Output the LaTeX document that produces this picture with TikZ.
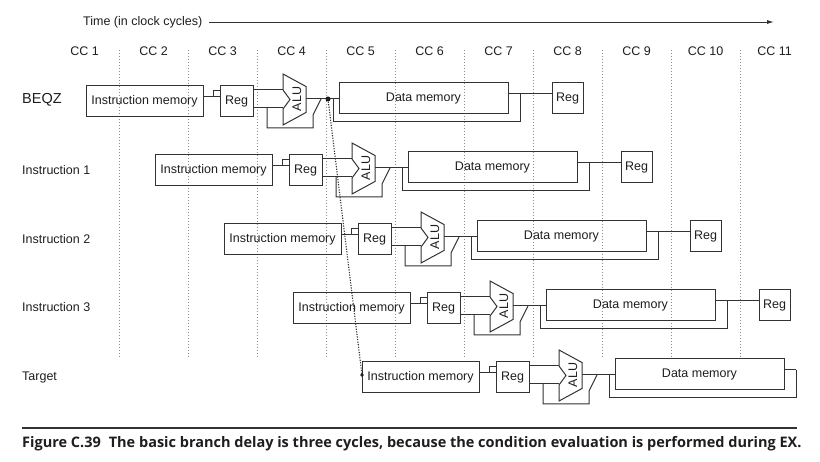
\documentclass[tikz,border=0pt]{standalone}
\usepackage{fontspec}
\setmainfont{Liberation Sans}
\newfontfamily\capfont{Open Sans}
\usetikzlibrary{arrows.meta,calc}
\definecolor{ink}{HTML}{1E1E1E}
\definecolor{lin}{HTML}{333333}
\definecolor{gridc}{HTML}{8C8C8C}
\tikzset{
  unitbox/.style={draw=lin, line width=1pt, inner sep=0pt, outer sep=0pt, text=ink, font=\fontsize{12.5}{14}\selectfont},
  wire/.style={draw=lin, line width=1pt},
  gridline/.style={draw=gridc, line width=0.6pt, dash pattern=on 1pt off 2pt},
  lbl/.style={text=ink, inner sep=0pt, font=\fontsize{12.5}{14}\selectfont},
}
\begin{document}
\begin{tikzpicture}[x=1pt,y=-1pt]
\useasboundingbox (0,0) rectangle (820,462);
% time axis
\node[lbl, anchor=west] (time) at (83,22) {Time (in clock cycles)};
\coordinate (tend) at (774,22);
\draw[draw=lin, line width=0.9pt, -{Latex[length=7pt,width=4pt]}] (time.east) ++(7,0) -- (tend);
% clock cycle labels
\foreach \k in {1,...,11} \node[lbl] (cc\k) at ({84.5+69*(\k-1)},51) {CC \k};
% grid
\foreach \k in {0,...,9} \draw[gridline] ({119+69*\k},50) -- ({119+69*\k},358);
% row labels
\node[lbl, anchor=west, font=\fontsize{14.5}{16}\selectfont] (r0) at (22,100) {BEQZ};
\node[lbl, anchor=west] (r1) at (22,170) {Instruction 1};
\node[lbl, anchor=west] (r2) at (22,239) {Instruction 2};
\node[lbl, anchor=west] (r3) at (22,307) {Instruction 3};
\node[lbl, anchor=west] (r4) at (22,377) {Target};
% pipeline rows
\foreach \i in {0,...,4} {
 \begin{scope}[shift={(69*\i,69*\i)}]
  \node[unitbox, minimum width=117pt, minimum height=31pt] (im\i) at (144.5,101.5) {Instruction memory};
  \node[unitbox, minimum width=33pt, minimum height=31pt] (reg\i) at (236.5,101.5) {Reg};
  \node[unitbox, minimum width=169pt, minimum height=31pt] (dm\i) at (423.5,98.5) {Data memory};
  \draw[wire] (283,74) -- (306,86.5) -- (306,112.5) -- (283,125) -- (283,109) -- (290,99.5) -- (283,90) -- cycle;
  \node[lbl, rotate=90] (alu\i) at (297,99) {ALU};
  % IF/ID latch
  \draw[wire] ([yshift=4.5pt]im\i.east) -- ([yshift=4.5pt]reg\i.west);
  \draw[wire] ([xshift=-7pt,yshift=4.5pt]reg\i.west) -- ([xshift=-7pt,yshift=10.5pt]reg\i.west) -- ([yshift=10.5pt]reg\i.west);
  % Reg to ALU
  \draw[wire] ([yshift=11.5pt]reg\i.east) -- ++(30,0);
  \draw[wire] ([yshift=-6.5pt]reg\i.east) -- ++(30,0);
  % bypass
  \coordinate (fb\i) at (267,108);
  \draw[wire] (fb\i) -- (267,128) -- (313,128) -- (313,115) -- (321,99);
  % ALU to data memory
  \coordinate (ao\i) at (306,99);
  \draw[wire] (ao\i) -- (ao\i -| dm\i.west);
  \coordinate (sp\i) at (333,99);
  \draw[wire] (sp\i) -- (333,122) -- (520,122) -- (520,94);
  \ifnum\i<4
    \node[unitbox, minimum width=31pt, minimum height=31pt] (wb\i) at (567.5,98.5) {Reg};
    \draw[wire] ([yshift=4.5pt]dm\i.east) -- ([yshift=4.5pt]wb\i.west);
  \else
    \draw[wire] ([yshift=4.5pt]dm\i.east) -- (520,94);
  \fi
 \end{scope}
}
% branch resolution to target fetch
\coordinate (br) at (328,99);
\coordinate (tg) at ([yshift=2.5pt]im4.west);
\draw[draw=lin, line width=1.1pt, dash pattern=on 1.2pt off 1.4pt] (br) -- (tg);
\fill[ink] (br) circle (2.5pt);
\fill[ink] (tg) circle (1.8pt);
% caption
\draw[draw=lin, line width=1.4pt] (22,428) -- (797,428);
\node[anchor=west, inner sep=0pt, text=ink, font=\capfont\bfseries\fontsize{14.5}{16}\selectfont] (cap) at (22,444) {Figure C.39\hspace{0.55em}The basic branch delay is three cycles, because the condition evaluation is performed during EX.};
\end{tikzpicture}
\end{document}
